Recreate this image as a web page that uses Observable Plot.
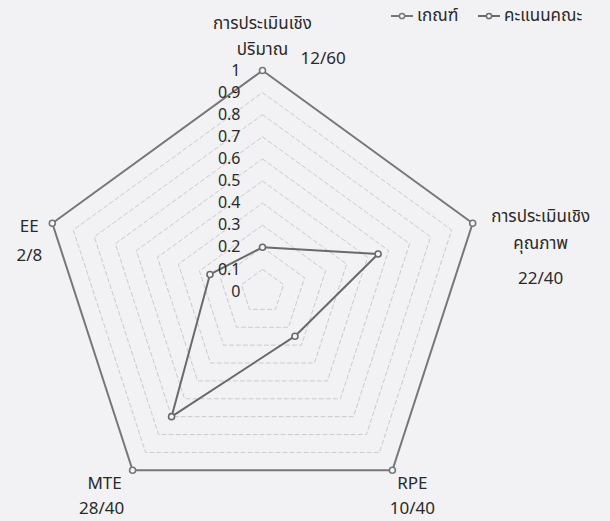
<!DOCTYPE html>
<html>
<head>
<meta charset="utf-8">
<script src="https://cdn.jsdelivr.net/npm/d3@7"></script>
<script src="https://cdn.jsdelivr.net/npm/@observablehq/plot@0.6"></script>
<style>
  html, body { margin: 0; padding: 0; background: #f2f1f3; }
  #chart { position: relative; width: 610px; height: 521px; }
  .legend { position: absolute; top: 3px; left: 391px; display: flex; align-items: center;
            font: 17px "Noto Sans Thai", "Noto Sans", "Liberation Sans", sans-serif; color: #2a2a2a; }
  .legend span { display: inline-flex; align-items: center; }
  .legend span:first-child { width: 87px; }
  .legend svg { margin-right: 4px; }
</style>
</head>
<body>
<div id="chart"></div>
<script>
// ---- data ----
const categories = ["การประเมินเชิง\nปริมาณ", "การประเมินเชิง\nคุณภาพ", "RPE", "MTE", "EE"];
const scoreLabels = ["12/60", "22/40", "10/40", "28/40", "2/8"];
const seriesNames = ["เกณฑ์", "คะแนนคณะ"];
const criterion = [1, 1, 1, 1, 1];
const scores = [0.2, 0.55, 0.25, 0.7, 0.25];
const ticks = [0, 0.1, 0.2, 0.3, 0.4, 0.5, 0.6, 0.7, 0.8, 0.9, 1];
const gridLevels = [0.1, 0.2, 0.3, 0.4, 0.5, 0.6, 0.7, 0.8, 0.9];

// ---- derived tables ----
const n = categories.length;
const angle = i => 2 * Math.PI * i / n;
const polar = (r, i) => ({x: r * Math.sin(angle(i)), y: r * Math.cos(angle(i))});

const grid = gridLevels.flatMap(level => categories.map((c, i) => ({level, ...polar(level, i)})));
const seriesValues = [criterion, scores];
const seriesData = seriesNames.flatMap((s, k) => seriesValues[k].map((v, i) => ({series: s, value: v, ...polar(v, i)})));
const axes = categories.map((c, i) => ({category: c, score: scoreLabels[i], ...polar(1, i)}));

const COLORS = ["#777777", "#6a6a6a"];
const FONT = '"Noto Sans Thai", "Noto Sans", "Liberation Sans", sans-serif';
const LATIN = '"Noto Sans", "Liberation Sans", sans-serif';
const TEXT = "#2a2a2a";

const label = (i, field, dx, dy, anchor = "middle") =>
  Plot.text([axes[i]], {x: "x", y: "y", text: field, dx, dy, textAnchor: anchor,
                        lineAnchor: "middle", lineHeight: 1.55, fill: TEXT,
                        fontFamily: field === "score" ? LATIN : FONT});

const chart = Plot.plot({
  width: 610,
  height: 521,
  marginLeft: 41, marginRight: 127, marginTop: 70, marginBottom: 9,
  x: {domain: [-1, 1], axis: null},
  y: {domain: [-1, 1], axis: null},
  color: {domain: seriesNames, range: COLORS},
  style: {background: "transparent", fontFamily: FONT, fontSize: "17px", overflow: "visible"},
  marks: [
    Plot.line(grid, {x: "x", y: "y", z: "level", curve: "linear-closed",
                     stroke: "#cbcbcb", strokeWidth: 1, strokeDasharray: "4,3"}),
    Plot.line(seriesData, {x: "x", y: "y", z: "series", curve: "linear-closed",
                           stroke: "series", strokeWidth: 2}),
    Plot.dot(seriesData, {x: "x", y: "y", r: 3, stroke: "series", fill: "#f6f6f6", strokeWidth: 1.6}),
    Plot.text(ticks, {x: () => 0, y: d => d, text: d => String(d), textAnchor: "end",
                      dx: -22, fill: TEXT, fontSize: 16, fontFamily: LATIN}),
    // category labels
    label(0, "category", 0, -37),
    label(1, "category", 68, 4),
    label(2, "category", 20, 10),
    label(3, "category", -28, 10),
    label(4, "category", -23, 0),
    // score labels
    label(0, "score", 38, -15, "start"),
    label(1, "score", 68, 52),
    label(2, "score", 20, 35),
    label(3, "score", -31, 35),
    label(4, "score", -23, 29)
  ]
});

const root = document.getElementById("chart");
root.appendChild(chart);

// legend (HTML, overlaid at top right)
const legend = document.createElement("div");
legend.className = "legend";
seriesNames.forEach((name, k) => {
  const item = document.createElement("span");
  item.innerHTML = `<svg width="22" height="10"><line x1="0" y1="5" x2="22" y2="5" stroke="${COLORS[k]}" stroke-width="2"/><circle cx="11" cy="5" r="2.6" fill="#f6f6f6" stroke="${COLORS[k]}" stroke-width="1.5"/></svg>${name}`;
  legend.appendChild(item);
});
root.appendChild(legend);
</script>
</body>
</html>
